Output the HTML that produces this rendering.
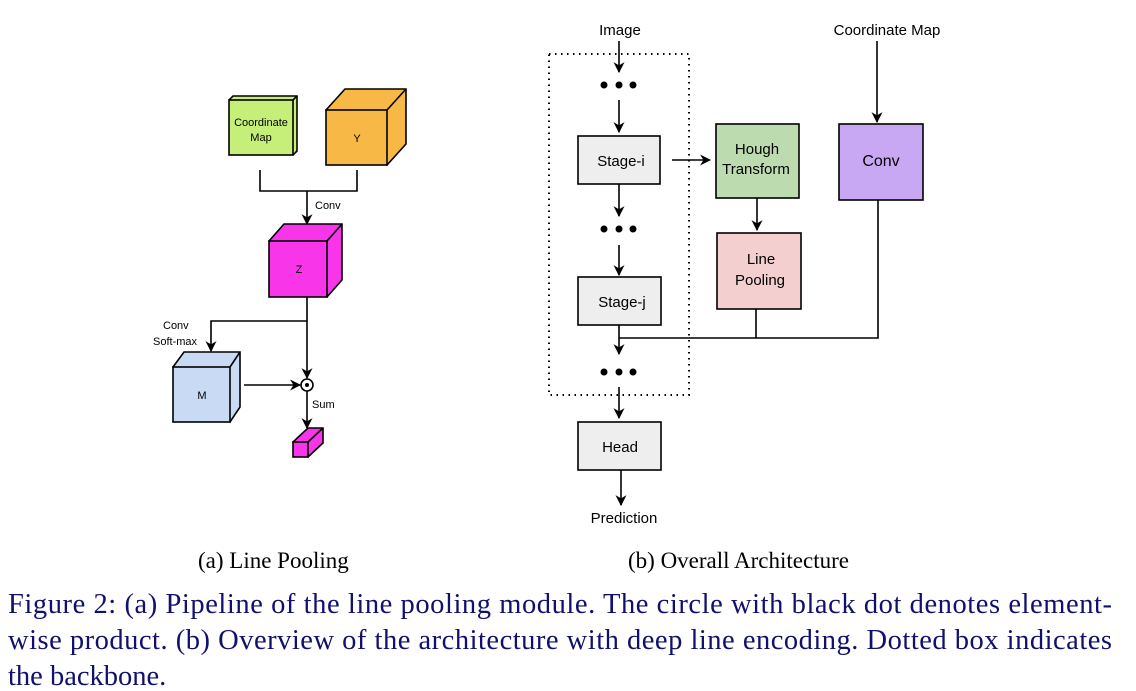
<!DOCTYPE html>
<html><head><meta charset="utf-8"><style>
html,body{margin:0;padding:0;background:#fff;}
svg{display:block;}
</style></head><body>
<svg width="1136" height="691" viewBox="0 0 1136 691" xmlns="http://www.w3.org/2000/svg">
<defs>
<marker id="ar" viewBox="0 0 10 10" refX="9" refY="5" markerWidth="11" markerHeight="11" markerUnits="userSpaceOnUse" orient="auto"><path d="M0,0 L10,5 L0,10 L3,5 z" fill="#000"/></marker>
</defs>
<g font-family="Liberation Sans, sans-serif" fill="none" stroke="#000" stroke-width="1.6">
<path d="M229,100 L233,96 L297,96 L297,151 L293,155" fill="#c6ef7a"/>
<rect x="229" y="100" width="64" height="55" fill="#c6ef7a"/>
<path d="M293,100 L297,96" />
<path d="M326,110 L345,89 L406,89 L406,144 L387,165 Z" fill="#f8b845"/>
<rect x="326" y="110" width="61" height="55" fill="#f8b845"/>
<path d="M387,110 L406,89"/>
<path d="M260,170 V191 H357 V170"/>
<path d="M307,191 V224" marker-end="url(#ar)"/>
<path d="M269,241 L284,224 L342,224 L342,280 L327,297 Z" fill="#f835e8"/>
<rect x="269" y="241" width="58" height="56" fill="#f835e8"/>
<path d="M327,241 L342,224"/>
<path d="M307,297 V321 H211 V351" marker-end="url(#ar)"/>
<path d="M307,321 V378" marker-end="url(#ar)"/>
<path d="M173,367 L184,352 L240,352 L240,407 L230,422 Z" fill="#c9daf5"/>
<rect x="173" y="367" width="57" height="55" fill="#c9daf5"/>
<path d="M230,367 L240,352"/>
<path d="M244,385 L300,385" marker-end="url(#ar)"/>
<circle cx="307" cy="385" r="6" fill="#fff"/>
<circle cx="307" cy="385" r="2" fill="#000" stroke="none"/>
<path d="M307,391 V428" marker-end="url(#ar)"/>
<path d="M293,442 L308,428 L323,428 L323,443 L308,457 Z" fill="#f835e8"/>
<rect x="293" y="442" width="15" height="15" fill="#f835e8"/>
<path d="M308,442 L323,428"/>
</g>
<g font-family="Liberation Sans, sans-serif" font-size="11" fill="#000">
<text x="261" y="126" text-anchor="middle">Coordinate</text>
<text x="261" y="141" text-anchor="middle">Map</text>
<text x="357" y="142" text-anchor="middle">Y</text>
<text x="299" y="273" text-anchor="middle">Z</text>
<text x="202" y="399" text-anchor="middle">M</text>
<text x="315" y="209">Conv</text>
<text x="163" y="329">Conv</text>
<text x="153" y="345">Soft-max</text>
<text x="312" y="408">Sum</text>
</g>
<g font-family="Liberation Sans, sans-serif" stroke="#000" stroke-width="1.6" fill="none">
<rect x="549" y="54" width="140" height="341" stroke-dasharray="1.5,4.5" stroke-width="2"/>
<path d="M619,41 V72" marker-end="url(#ar)"/>
<path d="M619,100 V132" marker-end="url(#ar)"/>
<rect x="578" y="136" width="82" height="48" fill="#eeeeee"/>
<path d="M619,184 V216" marker-end="url(#ar)"/>
<path d="M619,245 V275" marker-end="url(#ar)"/>
<rect x="578" y="277" width="83" height="48" fill="#eeeeee"/>
<path d="M619,325 V354" marker-end="url(#ar)"/>
<path d="M619,338 H878 V200"/>
<path d="M756,309 V338"/>
<path d="M619,387 V418" marker-end="url(#ar)"/>
<rect x="578" y="422" width="83" height="48" fill="#eeeeee"/>
<path d="M621,470 V505" marker-end="url(#ar)"/>
<path d="M672,160 H710" marker-end="url(#ar)"/>
<rect x="716" y="124" width="83" height="74" fill="#bcdcb0"/>
<path d="M757,198 V230" marker-end="url(#ar)"/>
<rect x="717" y="233" width="84" height="76" fill="#f4cfcf"/>
<path d="M877,41 V122" marker-end="url(#ar)"/>
<rect x="839" y="124" width="84" height="76" fill="#c9a8f3"/>
</g>
<g fill="#000">
<circle cx="604" cy="85" r="3.5"/><circle cx="619" cy="85" r="3.5"/><circle cx="633" cy="85" r="3.5"/>
<circle cx="604" cy="229" r="3.5"/><circle cx="619" cy="229" r="3.5"/><circle cx="633" cy="229" r="3.5"/>
<circle cx="604" cy="372" r="3.5"/><circle cx="619" cy="372" r="3.5"/><circle cx="633" cy="372" r="3.5"/>
</g>
<g font-family="Liberation Sans, sans-serif" font-size="15" fill="#000" text-anchor="middle">
<text x="620" y="35">Image</text>
<text x="887" y="35">Coordinate Map</text>
<text x="621" y="166">Stage-i</text>
<text x="622" y="307">Stage-j</text>
<text x="620" y="452">Head</text>
<text x="624" y="523">Prediction</text>
<text x="757" y="154">Hough</text>
<text x="756" y="174">Transform</text>
<text x="761" y="264">Line</text>
<text x="760" y="285">Pooling</text>
<text x="881" y="166" font-size="16">Conv</text>
</g>
<g font-family="Liberation Serif, serif" font-size="23" fill="#000">
<text x="198" y="568">(a)  Line Pooling</text>
<text x="628" y="568">(b)  Overall Architecture</text>
</g>
<g font-family="Liberation Serif, serif" font-size="28.5" fill="#10106e">
<text x="8" y="613" textLength="1104" lengthAdjust="spacing">Figure 2: (a) Pipeline of the line pooling module. The circle with black dot denotes element-</text>
<text x="8" y="649" textLength="1104" lengthAdjust="spacing">wise product. (b) Overview of the architecture with deep line encoding. Dotted box indicates</text>
<text x="8" y="685">the backbone.</text>
</g>
</svg>
</body></html>
